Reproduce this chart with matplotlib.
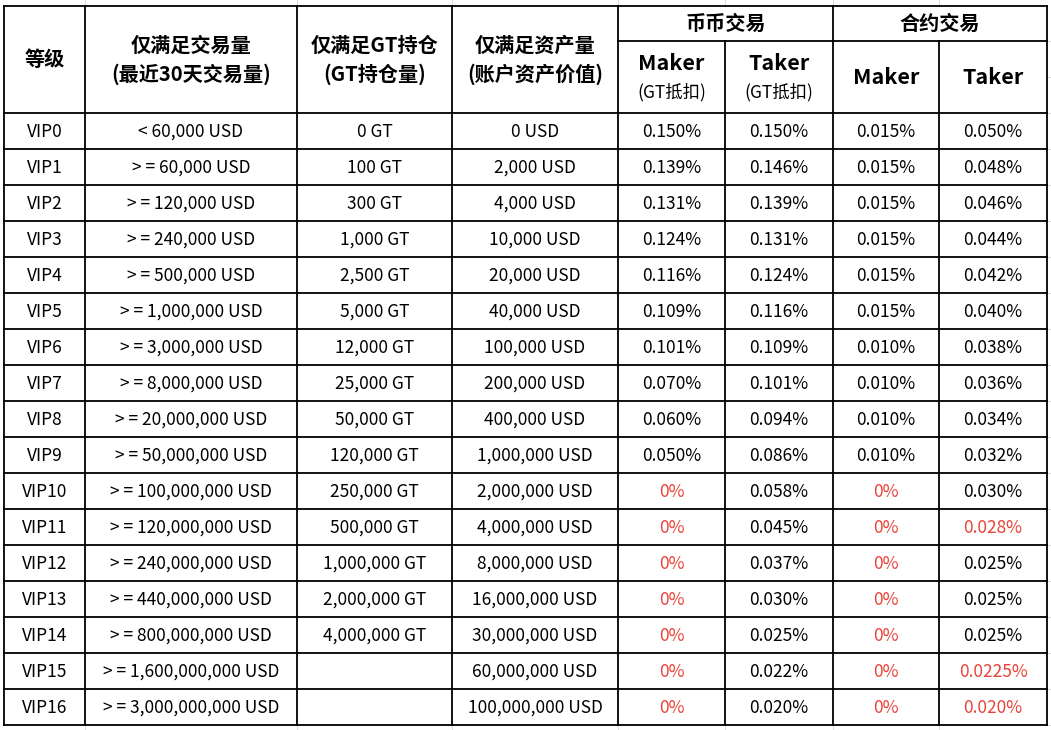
import matplotlib.pyplot as plt

plt.rcParams['font.family'] = ['Noto Sans CJK SC', 'DejaVu Sans']

levels = ['VIP%d' % i for i in range(17)]
volume = ['< 60,000 USD', '> = 60,000 USD', '> = 120,000 USD', '> = 240,000 USD',
          '> = 500,000 USD', '> = 1,000,000 USD', '> = 3,000,000 USD', '> = 8,000,000 USD',
          '> = 20,000,000 USD', '> = 50,000,000 USD', '> = 100,000,000 USD',
          '> = 120,000,000 USD', '> = 240,000,000 USD', '> = 440,000,000 USD',
          '> = 800,000,000 USD', '> = 1,600,000,000 USD', '> = 3,000,000,000 USD']
gt_hold = ['0 GT', '100 GT', '300 GT', '1,000 GT', '2,500 GT', '5,000 GT', '12,000 GT',
           '25,000 GT', '50,000 GT', '120,000 GT', '250,000 GT', '500,000 GT',
           '1,000,000 GT', '2,000,000 GT', '4,000,000 GT', '', '']
assets = ['0 USD', '2,000 USD', '4,000 USD', '10,000 USD', '20,000 USD', '40,000 USD',
          '100,000 USD', '200,000 USD', '400,000 USD', '1,000,000 USD', '2,000,000 USD',
          '4,000,000 USD', '8,000,000 USD', '16,000,000 USD', '30,000,000 USD',
          '60,000,000 USD', '100,000,000 USD']
spot_maker = ['0.150%', '0.139%', '0.131%', '0.124%', '0.116%', '0.109%', '0.101%',
              '0.070%', '0.060%', '0.050%', '0%', '0%', '0%', '0%', '0%', '0%', '0%']
spot_taker = ['0.150%', '0.146%', '0.139%', '0.131%', '0.124%', '0.116%', '0.109%',
              '0.101%', '0.094%', '0.086%', '0.058%', '0.045%', '0.037%', '0.030%',
              '0.025%', '0.022%', '0.020%']
fut_maker = ['0.015%', '0.015%', '0.015%', '0.015%', '0.015%', '0.015%', '0.010%',
             '0.010%', '0.010%', '0.010%', '0%', '0%', '0%', '0%', '0%', '0%', '0%']
fut_taker = ['0.050%', '0.048%', '0.046%', '0.044%', '0.042%', '0.040%', '0.038%',
             '0.036%', '0.034%', '0.032%', '0.030%', '0.028%', '0.025%', '0.025%',
             '0.025%', '0.0225%', '0.020%']
# 合约 Taker 中标红的等级
fut_taker_red = [11, 15, 16]

RED = '#e8443a'
cols = [levels, volume, gt_hold, assets, spot_maker, spot_taker, fut_maker, fut_taker]

xs = [4, 85, 297, 452, 618, 725, 833, 939, 1047]
top, mid, head_bot, row_h = 6, 41, 113, 36
bottom = head_bot + row_h * len(levels)

fig = plt.figure(figsize=(10.51, 7.30), dpi=100)
ax = fig.add_axes([0, 0, 1, 1])
ax.set_xlim(0, 1051)
ax.set_ylim(730, 0)
ax.axis('off')

# 表格外的浅色网格线
for gx in [85, 297, 452, 618, 725, 833, 939]:
    ax.plot([gx, gx], [0, top], color='#d9dce3', lw=0.8)
    ax.plot([gx, gx], [bottom, 730], color='#d9dce3', lw=0.8)
for gy in [head_bot + row_h * k for k in range(0, len(levels) + 1)] + [41, 77]:
    ax.plot([xs[-1], 1051], [gy, gy], color='#d9dce3', lw=0.8)

# 表格线
lw = 1.3
for x in xs:
    if x in (725, 939):
        ax.plot([x, x], [mid, bottom], color='black', lw=lw)
    else:
        ax.plot([x, x], [top, bottom], color='black', lw=lw)
ax.plot([xs[0], xs[-1]], [top, top], color='black', lw=lw)
ax.plot([xs[4], xs[-1]], [mid, mid], color='black', lw=lw)
for k in range(len(levels) + 1):
    y = head_bot + row_h * k
    ax.plot([xs[0], xs[-1]], [y, y], color='black', lw=lw)

# 表头
hfs = 14.5
hy = (top + head_bot) / 2
ax.text((xs[0] + xs[1]) / 2, hy, '等级', ha='center', va='center', fontsize=hfs, fontweight='bold')
heads = [('仅满足交易量', '(最近30天交易量)'), ('仅满足GT持仓', '(GT持仓量)'),
         ('仅满足资产量', '(账户资产价值)')]
for i, (a, b) in enumerate(heads):
    cx = (xs[i + 1] + xs[i + 2]) / 2
    ax.text(cx, hy - 14, a, ha='center', va='center', fontsize=hfs, fontweight='bold')
    ax.text(cx, hy + 15, b, ha='center', va='center', fontsize=hfs, fontweight='bold')
ax.text((xs[4] + xs[6]) / 2, (top + mid) / 2, '币币交易', ha='center', va='center',
        fontsize=hfs, fontweight='bold')
ax.text((xs[6] + xs[8]) / 2, (top + mid) / 2, '合约交易', ha='center', va='center',
        fontsize=hfs, fontweight='bold')
sy = (mid + head_bot) / 2
for i, name in enumerate(['Maker', 'Taker']):
    cx = (xs[4 + i] + xs[5 + i]) / 2
    ax.text(cx, sy - 13, name, ha='center', va='center', fontsize=15.5, fontweight='bold')
    ax.text(cx, sy + 15, '(GT抵扣)', ha='center', va='center', fontsize=12.5)
for i, name in enumerate(['Maker', 'Taker']):
    cx = (xs[6 + i] + xs[7 + i]) / 2
    ax.text(cx, sy, name, ha='center', va='center', fontsize=15.5, fontweight='bold')

# 数据
for c, col in enumerate(cols):
    cx = (xs[c] + xs[c + 1]) / 2
    for r, val in enumerate(col):
        color = 'black'
        if val == '0%' or (c == 7 and r in fut_taker_red):
            color = RED
        ax.text(cx, head_bot + row_h * r + row_h / 2 + 1, val, ha='center', va='center',
                fontsize=12.5, color=color)

fig.savefig('out.png', dpi=100)
